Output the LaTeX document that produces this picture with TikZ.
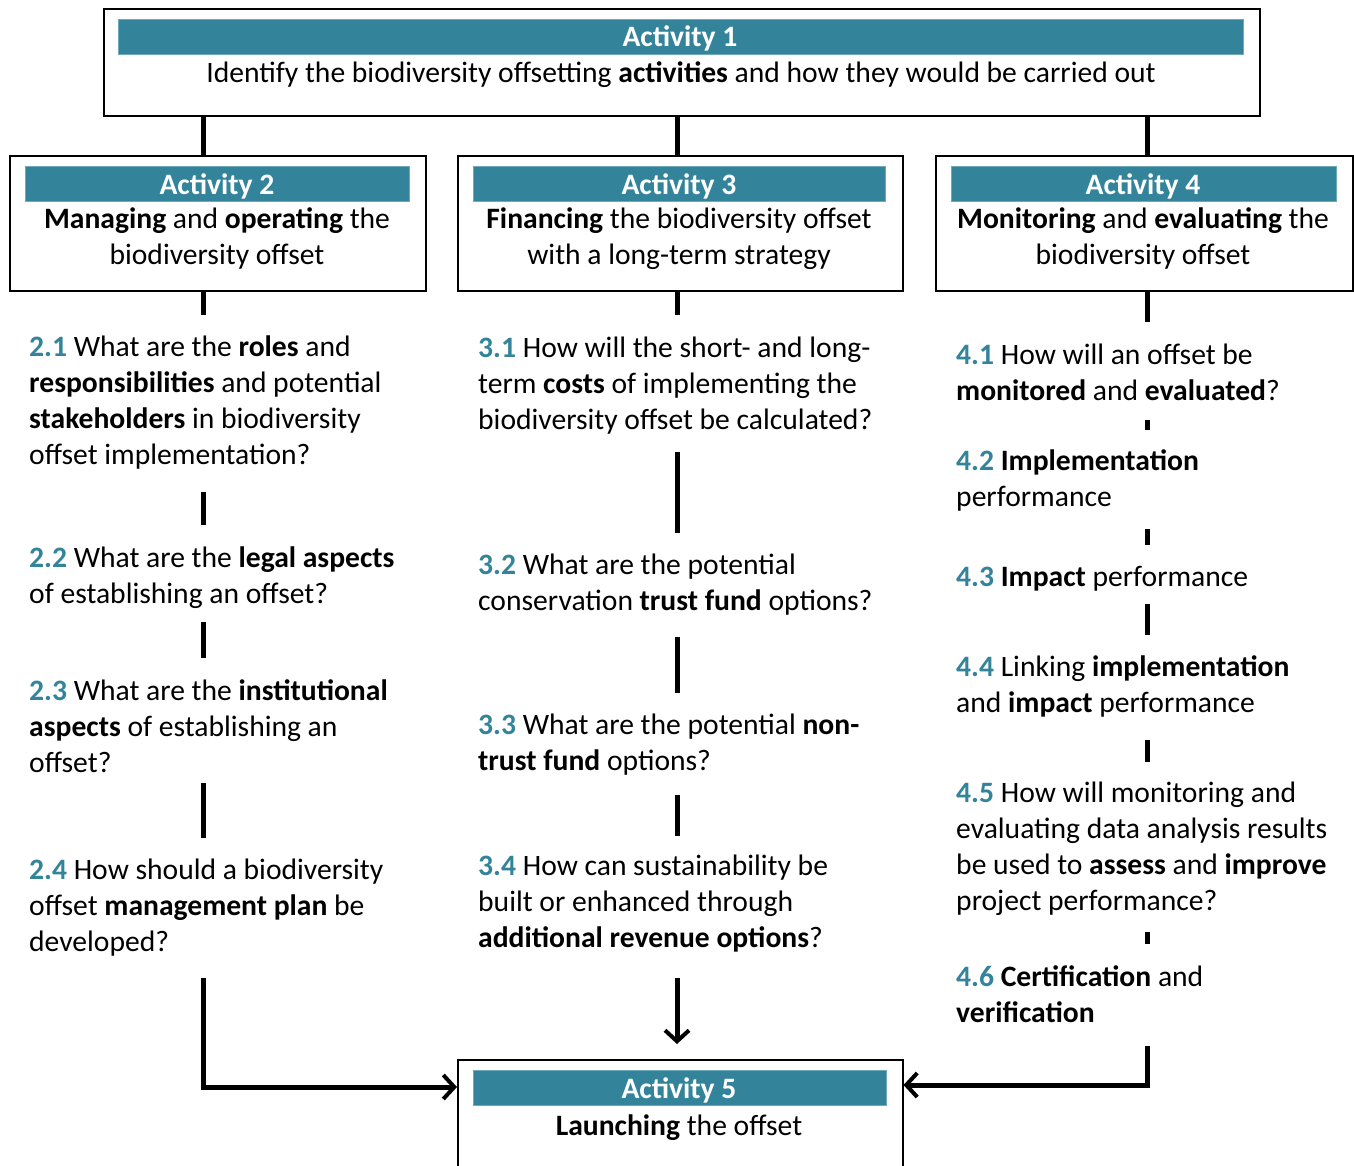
\documentclass[tikz,border=0pt]{standalone}
\usepackage{fontspec}
\setmainfont{Carlito}
\usetikzlibrary{arrows.meta}
\definecolor{teal1}{RGB}{51,132,155}
\newcommand{\qnum}[1]{\textbf{\textcolor{teal1}{#1}}}
\newcommand{\ltab}[1]{\begin{tabular}[t]{@{}l@{}}#1\end{tabular}}
\newcommand{\ctab}[1]{\begin{tabular}[t]{@{}c@{}}#1\end{tabular}}
\begin{document}
\begin{tikzpicture}[x=1pt,y=-1pt,
  font=\fontsize{29.6}{36}\selectfont,
  boxn/.style={draw=black, line width=1.5pt, anchor=north west, inner sep=0pt},
  barn/.style={fill=teal1, draw=teal1!70!white, line width=0.8pt, anchor=north west, inner sep=0pt},
  ttl/.style={anchor=base, text=white, font=\fontsize{29.6}{36}\selectfont\bfseries, inner sep=0pt},
  txt/.style={anchor=base, inner sep=0pt},
  qtxt/.style={anchor=base west, inner sep=0pt},
  conn/.style={line width=5pt, black},
  arr/.style={conn, -{Straight Barb[length=11pt,width=24pt,line width=4pt]}}
]
\useasboundingbox (0,0) rectangle (1354,1165);

% boxes
\node[boxn, minimum width=1156pt, minimum height=107pt] (a1) at (103,8) {};
\node[boxn, minimum width=416pt, minimum height=135pt] (a2) at (9,155) {};
\node[boxn, minimum width=445pt, minimum height=135pt] (a3) at (457,155) {};
\node[boxn, minimum width=417pt, minimum height=135pt] (a4) at (935,155) {};
\node[boxn, minimum width=445pt, minimum height=125pt] (a5) at (457,1059) {};

% bars
\node[barn, minimum width=1125pt, minimum height=35pt] (b1) at (118,19) {};
\node[barn, minimum width=384pt, minimum height=35pt] (b2) at (25,166) {};
\node[barn, minimum width=412pt, minimum height=35pt] (b3) at (473,166) {};
\node[barn, minimum width=385pt, minimum height=35pt] (b4) at (951,166) {};
\node[barn, minimum width=413pt, minimum height=35pt] (b5) at (473,1070) {};

% titles
\node[ttl] (t1) at (680,46) {Activity 1};
\node[ttl] (t2) at (217,194) {Activity 2};
\node[ttl] (t3) at (679,194) {Activity 3};
\node[ttl] (t4) at (1143,194) {Activity 4};
\node[ttl] (t5) at (679,1098) {Activity 5};

% box texts
\node[txt] (d1) at (681,82) {Identify the biodiversity offsetting \textbf{activities} and how they would be carried out};
\node[txt] (d2) at (217,228) {\ctab{\textbf{Managing} and \textbf{operating} the\\ biodiversity offset}};
\node[txt] (d3) at (679,228) {\ctab{\textbf{Financing} the biodiversity offset\\ with a long-term strategy}};
\node[txt] (d4) at (1143,228) {\ctab{\textbf{Monitoring} and \textbf{evaluating} the\\ biodiversity offset}};
\node[txt] (d5) at (679,1135) {\textbf{Launching} the offset};

% column 2
\node[qtxt] (q21) at (29,356) {\ltab{\qnum{2.1} What are the \textbf{roles} and\\ \textbf{responsibilities} and potential\\ \textbf{stakeholders} in biodiversity\\ offset implementation?}};
\node[qtxt] (q22) at (29,567) {\ltab{\qnum{2.2} What are the \textbf{legal aspects}\\ of establishing an offset?}};
\node[qtxt] (q23) at (29,700) {\ltab{\qnum{2.3} What are the \textbf{institutional}\\ \textbf{aspects} of establishing an\\ offset?}};
\node[qtxt] (q24) at (29,879) {\ltab{\qnum{2.4} How should a biodiversity\\ offset \textbf{management plan} be\\ developed?}};

% column 3
\node[qtxt] (q31) at (478,357) {\ltab{\qnum{3.1} How will the short- and long-\\ term \textbf{costs} of implementing the\\ biodiversity offset be calculated?}};
\node[qtxt] (q32) at (478,574) {\ltab{\qnum{3.2} What are the potential\\ conservation \textbf{trust fund} options?}};
\node[qtxt] (q33) at (478,734) {\ltab{\qnum{3.3} What are the potential \textbf{non-}\\ \textbf{trust fund} options?}};
\node[qtxt] (q34) at (478,875) {\ltab{\qnum{3.4} How can sustainability be\\ built or enhanced through\\ \textbf{additional revenue options}?}};

% column 4
\node[qtxt] (q41) at (956,364) {\ltab{\qnum{4.1} How will an offset be\\ \textbf{monitored} and \textbf{evaluated}?}};
\node[qtxt] (q42) at (956,470) {\ltab{\qnum{4.2} \textbf{Implementation}\\ performance}};
\node[qtxt] (q43) at (956,586) {\qnum{4.3} \textbf{Impact} performance};
\node[qtxt] (q44) at (956,676) {\ltab{\qnum{4.4} Linking \textbf{implementation}\\ and \textbf{impact} performance}};
\node[qtxt] (q45) at (956,802) {\ltab{\qnum{4.5} How will monitoring and\\ evaluating data analysis results\\ be used to \textbf{assess} and \textbf{improve}\\ project performance?}};
\node[qtxt] (q46) at (956,986) {\ltab{\qnum{4.6} \textbf{Certification} and\\ \textbf{verification}}};

% column x positions
\coordinate (c2) at (203,0);
\coordinate (c3) at (677,0);
\coordinate (c4) at (1147,0);

% connectors from activity 1
\draw[conn] (a1.south -| c2) -- (a2.north -| c2);
\draw[conn] (a1.south -| c3) -- (a3.north -| c3);
\draw[conn] (a1.south -| c4) -- (a4.north -| c4);

% column 2 segments
\draw[conn] (a2.south -| c2) -- (203,315);
\draw[conn] (203,492) -- (203,525);
\draw[conn] (203,622) -- (203,658);
\draw[conn] (203,783) -- (203,838);
\draw[arr] (203,978) -- (203,1087) -- (a5.west |- 0,1087);

% column 3 segments
\draw[conn] (a3.south -| c3) -- (677,315);
\draw[conn] (677,452) -- (677,533);
\draw[conn] (677,637) -- (677,693);
\draw[conn] (677,795) -- (677,836);
\draw[arr] (677,978) -- (677,1044);

% column 4 segments
\draw[conn] (a4.south -| c4) -- (1147,322);
\draw[conn] (1147,420) -- (1147,430);
\draw[conn] (1147,529) -- (1147,545);
\draw[conn] (1147,604) -- (1147,635);
\draw[conn] (1147,740) -- (1147,762);
\draw[conn] (1147,932) -- (1147,944);
\draw[arr] (1147,1046) -- (1147,1085) -- (a5.east |- 0,1085);
\end{tikzpicture}
\end{document}
